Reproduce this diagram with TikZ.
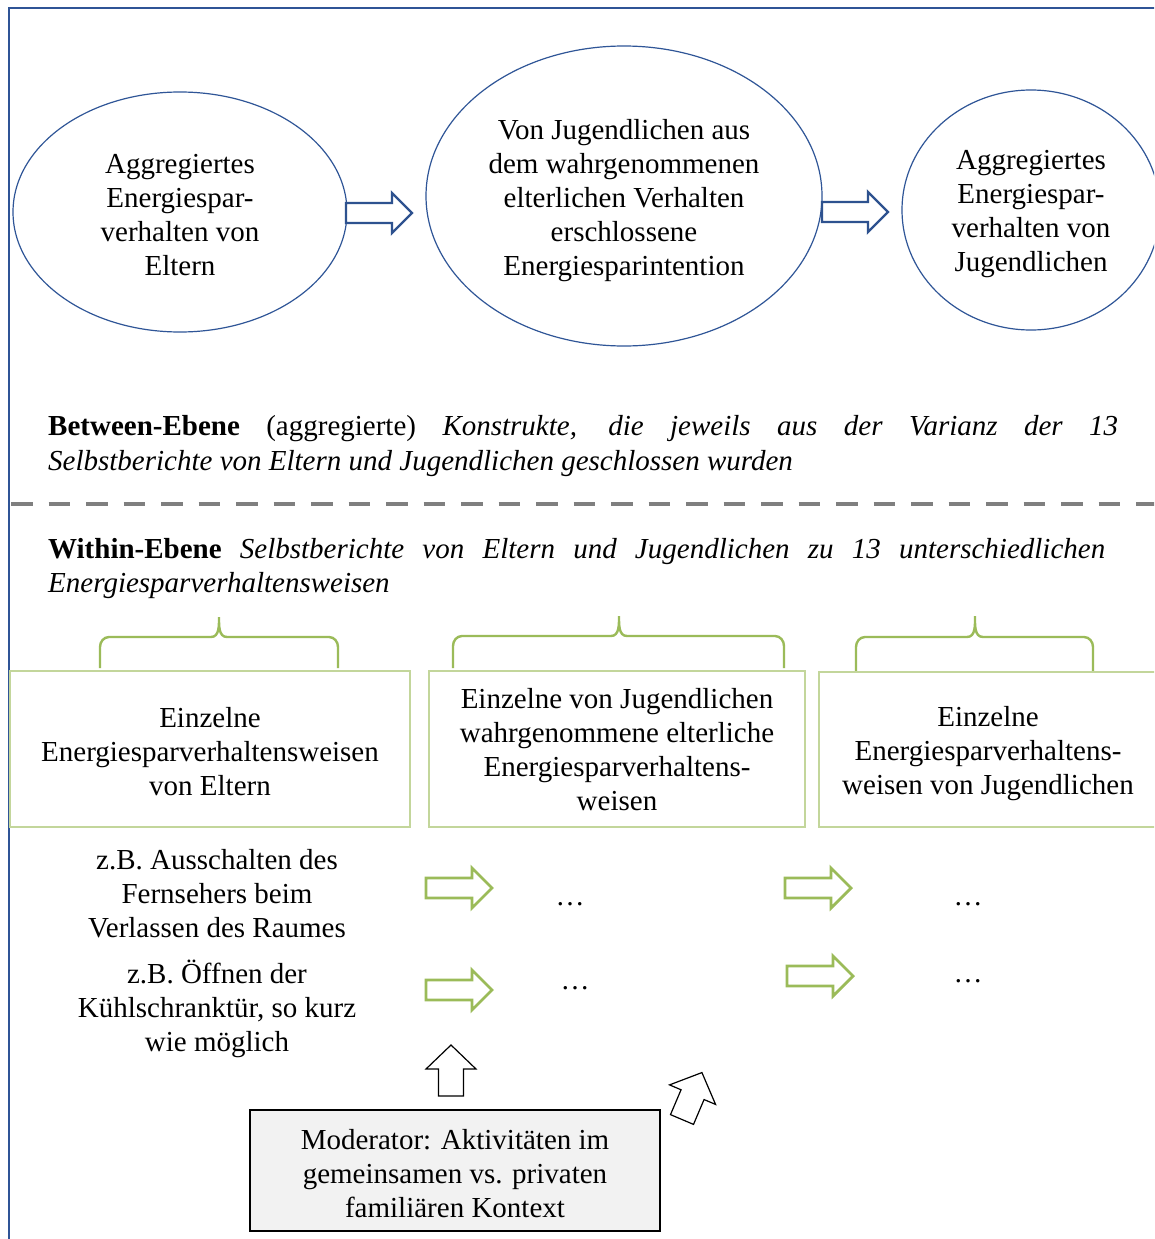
\documentclass[tikz,border=0pt]{standalone}
\usepackage{fontspec}
\setmainfont{Liberation Serif}
\usetikzlibrary{shapes.geometric}
\definecolor{frameblue}{HTML}{2F5496}
\definecolor{ellblue}{HTML}{2F5597}
\definecolor{arrblue}{HTML}{2E528F}
\definecolor{brgreen}{HTML}{9BBB59}
\definecolor{boxgreen}{HTML}{C3D69B}
\definecolor{dashgray}{HTML}{7F7F7F}
\definecolor{modfill}{HTML}{F2F2F2}
\tikzset{
 txt/.style={font=\fontsize{29}{34}\selectfont, align=center, inner sep=0pt},
 ell/.style={ellipse, draw=ellblue, line width=1.2pt, inner sep=0pt},
 gbox/.style={draw=boxgreen, line width=1.8pt, inner sep=0pt},
 brace/.style={draw=brgreen, line width=2.4pt},
 linetext/.style={anchor=base west, inner sep=0pt, font=\fontsize{29}{34}\selectfont},
 dots/.style={anchor=base, inner sep=0pt, font=\fontsize{29}{34}\selectfont},
 rarr/.pic={\path[pic actions] (0,-10) -- (46,-10) -- (46,-20) -- (66,0) -- (46,20) -- (46,10) -- (0,10) -- cycle;},
 uarr/.pic={\path[pic actions] (-12.5,0) -- (-12.5,-27) -- (-25,-27) -- (0,-51) -- (25,-27) -- (12.5,-27) -- (12.5,0) -- cycle;},
 bluearr/.style={draw=arrblue, line width=2.4pt, fill=white},
 greenarr/.style={draw=brgreen, line width=2.8pt, fill=white},
 blackarr/.style={draw=black, line width=1.2pt, fill=white},
}
\begin{document}
\begin{tikzpicture}[x=1pt,y=-1pt]
\clip (0,0) rectangle (1154,1239);
\fill[white] (0,0) rectangle (1154,1239);
\draw[frameblue, line width=2.2pt] (1160,8) -- (9,8) -- (9,1245);

% Between level ellipses
\node[ell, minimum width=334pt, minimum height=240pt] (e1) at (180,212) {};
\node[txt] (t1) at (180,215) {Aggregiertes\\Energiespar-\\verhalten von\\Eltern};
\node[ell, minimum width=396pt, minimum height=300pt] (e2) at (624,196) {};
\node[txt] (t2) at (624,201) {Von Jugendlichen aus\\dem wahrgenommenen\\elterlichen Verhalten\\erschlossene\\Energiesparintention};
\node[ell, minimum width=258pt, minimum height=240pt] (e3) at (1031,210) {};
\node[txt] (t3) at (1031,214) {Aggregiertes\\Energiespar-\\verhalten von\\Jugendlichen};
\pic[bluearr] at (346,213) {rarr};
\pic[bluearr] at (822,212) {rarr};

% Between text
\node[linetext] (btw1) at (48,435) {\makebox[1070pt][s]{\textbf{Between-Ebene} (aggregierte) \textit{Konstrukte, die jeweils aus der Varianz der 13}}};
\node[linetext] (btw2) at (48,470) {\textit{Selbstberichte von Eltern und Jugendlichen geschlossen wurden}};

\draw[dashgray, line width=4pt, dash pattern=on 21.5pt off 16pt] (11,504) -- (1160,504);

% Within text
\node[linetext] (wth1) at (48,558) {\makebox[1057pt][s]{\textbf{Within-Ebene} \textit{Selbstberichte von Eltern und Jugendlichen zu 13 unterschiedlichen}}};
\node[linetext] (wth2) at (48,592) {\textit{Energiesparverhaltensweisen}};

% Braces
\draw[brace] (100,668) -- (100,647) to[out=90,in=180] (109,637) -- (211,637) to[out=0,in=-90] (219,617) to[out=-90,in=180] (227,637) -- (329,637) to[out=0,in=90] (338,647) -- (338,668);
\draw[brace] (453,668) -- (453,646) to[out=90,in=180] (462,636) -- (611,636) to[out=0,in=-90] (619,616) to[out=-90,in=180] (627,636) -- (775,636) to[out=0,in=90] (784,646) -- (784,668);
\draw[brace] (856,671) -- (856,647) to[out=90,in=180] (865,637) -- (967,637) to[out=0,in=-90] (975,616) to[out=-90,in=180] (983,637) -- (1084,637) to[out=0,in=90] (1093,647) -- (1093,671);

% Within boxes
\node[gbox, minimum width=400pt, minimum height=156pt] (b1) at (210,749) {};
\node[txt] (bt1) at (210,751.5) {Einzelne\\Energiesparverhaltensweisen\\von Eltern};
\node[gbox, minimum width=376pt, minimum height=156pt] (b2) at (617,749) {};
\node[txt] (bt2) at (617,750) {Einzelne von Jugendlichen\\wahrgenommene elterliche\\Energiesparverhaltens-\\weisen};
\node[gbox, minimum width=341pt, minimum height=155pt] (b3) at (989.5,749.5) {};
\node[txt] (bt3) at (988,753.5) {Einzelne\\Energiesparverhaltens-\\weisen von Jugendlichen};

% Examples
\node[txt] (ex1) at (217,893.5) {z.B. Ausschalten des\\Fernsehers beim\\Verlassen des Raumes};
\node[txt] (ex2) at (217,1009) {z.B. Öffnen der\\Kühlschranktür, so kurz\\wie möglich};
\pic[greenarr] at (426,888) {rarr};
\pic[greenarr] at (785,888) {rarr};
\pic[greenarr] at (426,990) {rarr};
\pic[greenarr] at (787,976) {rarr};
\node[dots] (d1) at (570,905) {…};
\node[dots] (d2) at (968,905) {…};
\node[dots] (d3) at (575,989) {…};
\node[dots] (d4) at (968,982) {…};

% Moderator
\pic[blackarr] at (451,1096) {uarr};
\pic[blackarr, rotate=-23] at (682,1119.5) {uarr};
\node[draw=black, line width=2pt, fill=modfill, minimum width=410pt, minimum height=121pt, inner sep=0pt] (mod) at (455,1170.5) {};
\node[txt] (modt) at (455,1173.5) {Moderator: Aktivitäten im\\gemeinsamen vs. privaten\\familiären Kontext};
\end{tikzpicture}
\end{document}
